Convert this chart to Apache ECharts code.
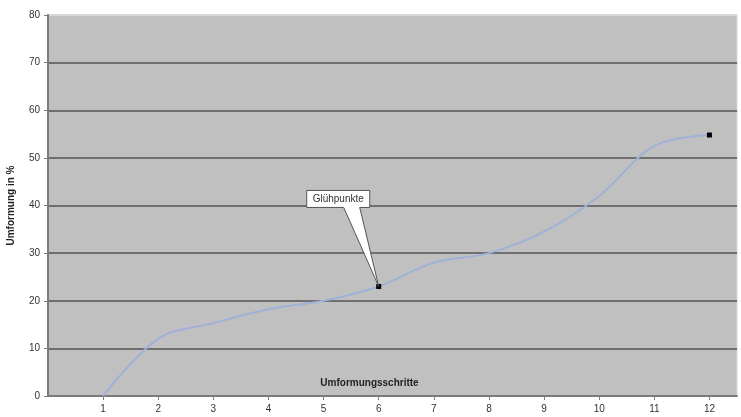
<!DOCTYPE html>
<html>
<head>
<meta charset="utf-8">
<script src="https://cdn.jsdelivr.net/npm/echarts@6/dist/echarts.min.js"></script>
<style>
  html, body { margin: 0; padding: 0; background: #ffffff; }
  #chart { width: 741px; height: 417px; }
</style>
</head>
<body>
<div id="chart"></div>
<script>
// Forming steps and the cumulative deformation after each step (%)
const steps = [1, 2, 3, 4, 5, 6, 7, 8, 9, 10, 11, 12];
const deformation = [0, 12, 15.3, 18.2, 20, 23, 28, 30, 34.5, 42, 52.5, 54.8];
// Steps after which the part was annealed (marked with a square)
const annealSteps = [6, 12];
const yTicks = [0, 10, 20, 30, 40, 50, 60, 70, 80];
const xTitle = 'Umformungsschritte';
const yTitle = 'Umformung in %';
const calloutText = 'Glühpunkte';
const calloutStep = 6;

const FONT = '"Liberation Sans", Arial, sans-serif';

const seriesData = steps.map((s, i) => {
  const item = { value: [s, deformation[i]] };
  if (annealSteps.includes(s)) {
    item.symbol = 'rect';
    item.symbolSize = 5;
    item.itemStyle = { color: '#000000', borderWidth: 0 };
  } else {
    item.symbol = 'none';
  }
  return item;
});

// Split line colours: dark gridlines, light line along the top edge
const splitColors = yTicks.map((v, i) => (i === yTicks.length - 1 ? '#d8d8d8' : '#6f6f6f'));

const chart = echarts.init(document.getElementById('chart'), null, { renderer: 'canvas' });

chart.setOption({
  animation: false,
  backgroundColor: '#ffffff',
  grid: {
    left: 48, right: 4, top: 15, bottom: 21,
    containLabel: false,
    outerBoundsMode: 'none',
    show: true,
    backgroundColor: '#c0c0c0',
    borderColor: '#d8d8d8',
    borderWidth: 1
  },
  xAxis: {
    type: 'value',
    min: 0,
    max: 12.5,
    interval: 1,
    name: xTitle,
    nameLocation: 'middle',
    nameGap: -18,
    nameTextStyle: { fontFamily: FONT, fontSize: 10, fontWeight: 'bold', color: '#222', padding: [0, 46, 0, 0] },
    axisLine: { show: true, lineStyle: { color: '#7a7a7a', width: 2 } },
    axisTick: { show: true, length: 4, lineStyle: { color: '#7a7a7a' }, customValues: steps },
    axisLabel: { fontFamily: FONT, fontSize: 10, color: '#333', margin: 8, customValues: steps },
    splitLine: { show: false }
  },
  yAxis: {
    type: 'value',
    min: yTicks[0],
    max: yTicks[yTicks.length - 1],
    interval: 10,
    name: yTitle,
    nameLocation: 'middle',
    nameRotate: 90,
    nameGap: 32,
    nameTextStyle: { fontFamily: FONT, fontSize: 10, fontWeight: 'bold', color: '#222' },
    axisLine: { show: true, lineStyle: { color: '#7a7a7a', width: 2 } },
    axisTick: { show: true, length: 4, lineStyle: { color: '#7a7a7a' } },
    axisLabel: { fontFamily: FONT, fontSize: 10, color: '#333', margin: 8 },
    splitLine: { show: true, lineStyle: { color: splitColors, width: 2 } }
  },
  series: [{
    type: 'line',
    data: seriesData,
    smooth: 0.35,
    symbol: 'none',
    showSymbol: true,
    lineStyle: { color: '#9fb1d8', width: 2 },
    itemStyle: { color: '#000000' },
    z: 3
  }]
});

// Callout box with a wedge pointing at the first anneal point
const idx = steps.indexOf(calloutStep);
const tip = chart.convertToPixel({ seriesIndex: 0 }, [calloutStep, deformation[idx]]);
const bx = tip[0] - 72, by = tip[1] - 96, bw = 63, bh = 17;
const wl = tip[0] - 35, wr = tip[0] - 19;

chart.setOption({
  graphic: [
    {
      type: 'polygon',
      z: 10,
      shape: {
        points: [
          [bx, by], [bx + bw, by], [bx + bw, by + bh],
          [wr, by + bh], [tip[0], tip[1]], [wl, by + bh],
          [bx, by + bh]
        ]
      },
      style: { fill: '#ffffff', stroke: '#555555', lineWidth: 1 }
    },
    {
      type: 'text',
      z: 11,
      x: bx + bw / 2,
      y: by + bh / 2,
      style: {
        text: calloutText,
        fill: '#333333',
        font: '10px ' + FONT,
        align: 'center',
        verticalAlign: 'middle'
      }
    }
  ]
});
</script>
</body>
</html>
